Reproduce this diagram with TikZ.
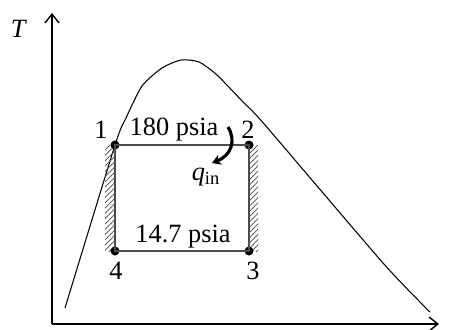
\documentclass[tikz,border=0pt]{standalone}
\usepackage{fontspec}
\setmainfont{Liberation Serif}
\usetikzlibrary{arrows.meta,positioning,calc,patterns}

\begin{document}
\begin{tikzpicture}[
    x=0.02cm, y=-0.02cm,
    font=\fontsize{15}{18}\selectfont,
    statept/.style={circle, fill=black, inner sep=0pt, minimum size=0.18cm},
    axis/.style={-{Straight Barb[length=5pt,width=8pt]}, line width=0.8pt},
    process/.style={draw=black!70, line width=0.7pt},
    hatch/.style={pattern=north east lines, pattern color=black!70, draw=none},
    heat/.style={-{Stealth[length=5pt,width=6pt]}, line width=1.8pt}
  ]
    \useasboundingbox (0,0) rectangle (452,329);
    % axes
    \coordinate (o) at (52,324);
    \coordinate (ytip) at (52,13);
    \coordinate (xtip) at (439,324);
    \draw[axis] (o) -- (ytip);
    \draw[axis] (o) -- (xtip);
    \node (tlab) at (19,29) {\textit{T}};
    % saturation dome
    \draw[line width=0.6pt] plot[smooth, tension=0.4] coordinates {
      (65,308) (115,145) (126,118) (142,86) (162,68) (181,60) (199,62)
      (217,75) (243,102) (265,125) (383,263) (430,312)};
    % hatched strips
    \fill[hatch] (105,145) rectangle (115,251);
    \fill[hatch] (249,145) rectangle (258,251);
    % states
    \foreach \i/\x/\y in {1/115/145,2/249/145,3/249/251,4/115/251} {
      \node[statept] (p\i) at (\x,\y) {};
    }
    \draw[process] (p1.center) -- (p2.center) -- (p3.center) -- (p4.center) -- cycle;
    \node (l1) at (101,130) {1};
    \node (l2) at (248,130) {2};
    \node (l3) at (253,271) {3};
    \node (l4) at (116,271) {4};
    \node (phigh) at (174,130) {180 psia};
    \node (plow) at (183,237) {14.7 psia};
    % heat input
    \coordinate (qa) at (228,127);
    \coordinate (qb) at (212,163);
    \draw[heat] (qa) .. controls (236,140) and (232,155) .. (qb);
    \node (qin) at (206,177) {\textit{q}\textsubscript{in}};
  \end{tikzpicture}
\end{document}
